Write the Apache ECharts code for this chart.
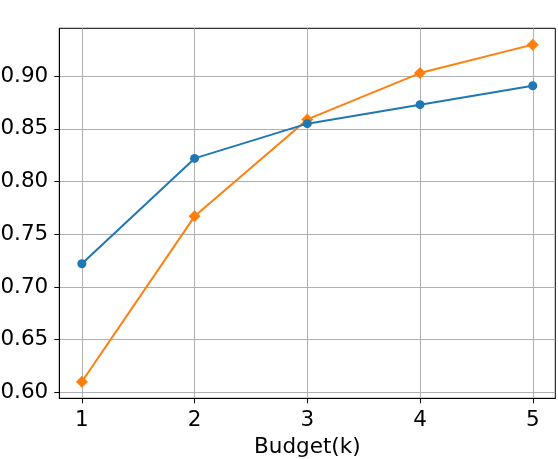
<!DOCTYPE html>
<html>
<head>
<meta charset="utf-8">
<script src="https://cdn.jsdelivr.net/npm/echarts@6/dist/echarts.min.js"></script>
<style>
  html, body { margin: 0; padding: 0; background: #fff; }
  #chart { width: 558px; height: 459px; }
</style>
</head>
<body>
<div id="chart"></div>
<script>
var budgets = [1, 2, 3, 4, 5];
var blueValues = [0.722, 0.822, 0.855, 0.873, 0.891];
var orangeValues = [0.610, 0.767, 0.859, 0.903, 0.930];
var yTicks = [0.60, 0.65, 0.70, 0.75, 0.80, 0.85, 0.90];

function pairs(vals) {
  return budgets.map(function (b, i) { return [b, vals[i]]; });
}

var chart = echarts.init(document.getElementById('chart'));
var font = 'DejaVu Sans';

chart.setOption({
  animation: false,
  grid: {
    left: 59.3, right: 2.7, top: 28.3, bottom: 60.7,
    containLabel: false,
    outerBoundsMode: 'none',
    show: true, borderColor: '#000', borderWidth: 1, backgroundColor: 'transparent'
  },
  xAxis: {
    type: 'value',
    min: 0.8,
    max: 5.2,
    name: 'Budget(k)',
    nameLocation: 'middle',
    nameGap: 38,
    nameTextStyle: { fontFamily: font, fontSize: 21.5, color: '#000' },
    axisLine: { show: true, onZero: false, lineStyle: { color: '#000', width: 1 } },
    axisTick: { show: true, inside: false, length: 5, customValues: budgets, lineStyle: { color: '#000' } },
    axisLabel: { customValues: budgets, margin: 11, fontFamily: font, fontSize: 21.5, color: '#000' },
    splitLine: { show: true, lineStyle: { color: '#b0b0b0', width: 1 } }
  },
  yAxis: {
    type: 'value',
    min: 0.5943,
    max: 0.9455,
    axisLine: { show: true, onZero: false, lineStyle: { color: '#000', width: 1 } },
    axisTick: { show: true, inside: false, length: 5, customValues: yTicks, lineStyle: { color: '#000' } },
    axisLabel: {
      customValues: yTicks, margin: 11, fontFamily: font, fontSize: 21.5, color: '#000',
      formatter: function (v) { return v.toFixed(2); }
    },
    splitLine: { show: true, lineStyle: { color: '#b0b0b0', width: 1 } }
  },
  series: [
    {
      type: 'line',
      data: pairs(orangeValues),
      symbol: 'diamond',
      symbolSize: [12, 12],
      lineStyle: { color: '#ff7f0e', width: 2 },
      itemStyle: { color: '#ff7f0e' }
    },
    {
      type: 'line',
      data: pairs(blueValues),
      symbol: 'circle',
      symbolSize: 9,
      lineStyle: { color: '#1f77b4', width: 2 },
      itemStyle: { color: '#1f77b4' }
    }
  ]
});
</script>
</body>
</html>
